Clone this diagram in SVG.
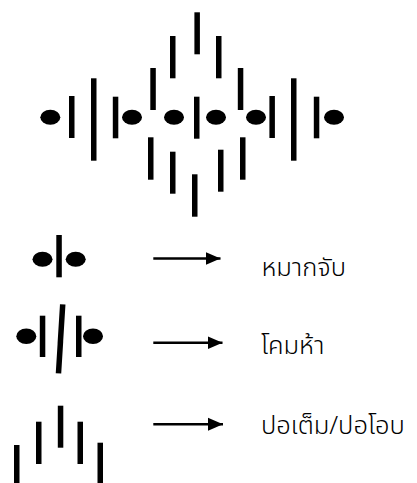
<svg xmlns="http://www.w3.org/2000/svg" width="417" height="483" viewBox="0 0 417 483">
<defs>
<style>
.bar{fill:#000}
.dot{fill:#000}
.conn line{stroke:#000;stroke-width:2.5}
.lbl{font-family:"Noto Sans Thai","Noto Sans","DejaVu Sans",sans-serif;font-size:25.5px;font-weight:300;fill:#000}
</style>
<marker id="ah" markerWidth="6" markerHeight="6" refX="6" refY="3" orient="auto" markerUnits="strokeWidth"><path d="M0,0.4 L6,3 L0,5.6 Z" fill="#000"/></marker>
</defs>
<rect width="417" height="483" fill="#fff"/>
<g id="pattern">
<ellipse class="dot" cx="50.3" cy="117.3" rx="10" ry="7.5"/>
<ellipse class="dot" cx="132" cy="117.3" rx="10" ry="7.5"/>
<ellipse class="dot" cx="174" cy="117.3" rx="10" ry="7.5"/>
<ellipse class="dot" cx="216" cy="117.3" rx="10" ry="7.5"/>
<ellipse class="dot" cx="256" cy="117.3" rx="10" ry="7.5"/>
<ellipse class="dot" cx="334" cy="117.3" rx="10" ry="7.5"/>
<rect class="bar" x="69" y="96" width="5.5" height="42"/>
<rect class="bar" x="91" y="78.3" width="5.5" height="82.4"/>
<rect class="bar" x="112.8" y="96.7" width="5.5" height="41.6"/>
<rect class="bar" x="150.3" y="68" width="5.5" height="42"/>
<rect class="bar" x="170" y="36" width="5.5" height="42.3"/>
<rect class="bar" x="194.4" y="12.3" width="5.5" height="42"/>
<rect class="bar" x="216" y="36" width="5.5" height="42.3"/>
<rect class="bar" x="237.8" y="68" width="5.5" height="42"/>
<rect class="bar" x="194" y="96.7" width="5.5" height="42"/>
<rect class="bar" x="269.4" y="96" width="5.5" height="42"/>
<rect class="bar" x="291" y="78.3" width="5.5" height="82.4"/>
<rect class="bar" x="313.8" y="96.7" width="5.5" height="41.6"/>
<rect class="bar" x="148" y="137.3" width="5.5" height="42.4"/>
<rect class="bar" x="170" y="151.7" width="5.5" height="42"/>
<rect class="bar" x="192" y="174.3" width="5.5" height="42.4"/>
<rect class="bar" x="218" y="149.7" width="5.5" height="42"/>
<rect class="bar" x="240" y="137.3" width="5.5" height="42.4"/>
</g>
<g id="symbol-makjap">
<ellipse class="dot" cx="42.5" cy="259.2" rx="10" ry="7.5"/>
<rect class="bar" x="56.3" y="235" width="5.5" height="42.3"/>
<ellipse class="dot" cx="75.7" cy="259.2" rx="10" ry="7.5"/>
</g>
<g id="symbol-khomha">
<ellipse class="dot" cx="26.3" cy="336.3" rx="10" ry="7.8"/>
<rect class="bar" x="39.8" y="315.7" width="5.5" height="41.3"/>
<line x1="62.7" y1="304.3" x2="58.5" y2="373.3" stroke="#000" stroke-width="5.5"/>
<rect class="bar" x="76" y="315.7" width="5.5" height="41.3"/>
<ellipse class="dot" cx="93" cy="336.3" rx="10" ry="7.8"/>
</g>
<g id="symbol-potem">
<rect class="bar" x="14" y="445" width="5.5" height="38"/>
<rect class="bar" x="36" y="421.7" width="5.5" height="42.3"/>
<rect class="bar" x="57.8" y="405.7" width="5.5" height="42"/>
<rect class="bar" x="77.5" y="421.7" width="5.5" height="42.3"/>
<rect class="bar" x="97.5" y="442.7" width="5.5" height="40.3"/>
</g>
<g id="connectors" class="conn">
<line x1="153.3" y1="258.5" x2="220.5" y2="258.5" marker-end="url(#ah)"/>
<line x1="153.3" y1="342.7" x2="222.5" y2="342.7" marker-end="url(#ah)"/>
<line x1="153.3" y1="424.3" x2="223" y2="424.3" marker-end="url(#ah)"/>
</g>
<g id="labels">
<text class="lbl" x="261.5" y="276">หมากจับ</text>
<text class="lbl" x="261" y="354">โคมห้า</text>
<text class="lbl" x="261" y="434">ปอเต็ม/ปอโอบ</text>
</g>
</svg>
